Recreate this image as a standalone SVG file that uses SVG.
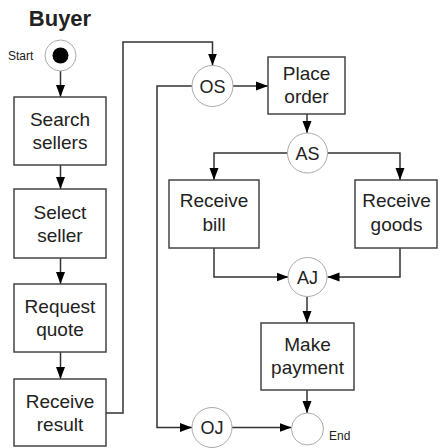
<svg xmlns="http://www.w3.org/2000/svg" width="440" height="448" viewBox="0 0 440 448">
  <defs>
    <marker id="arrow" markerUnits="userSpaceOnUse" markerWidth="12" markerHeight="10" refX="12" refY="5" orient="auto">
      <path d="M0,0.5 L12,5 L0,9.5 z" fill="#000"/>
    </marker>
    <style>
      .box { fill: #fff; stroke: #444; stroke-width: 1.5; }
      .state { fill: #fff; stroke: #aaa; stroke-width: 1; }
      .edge { fill: none; stroke: #333; stroke-width: 1.5; marker-end: url(#arrow); }
      .lbl { font-family: "Liberation Sans", Arial, sans-serif; font-size: 19px; fill: #222; text-anchor: middle; }
      .clbl { font-family: "Liberation Sans", Arial, sans-serif; font-size: 18px; fill: #222; text-anchor: middle; }
      .small { font-family: "Liberation Sans", Arial, sans-serif; font-size: 12px; fill: #222; }
      .title { font-family: "Liberation Sans", Arial, sans-serif; font-size: 22px; font-weight: bold; fill: #222; text-anchor: middle; }
    </style>
  </defs>

  <rect width="440" height="448" fill="#fff"/>

  <text class="title" x="60" y="26">Buyer</text>

  <!-- connectors -->
  <g id="connectors">
    <path class="edge" d="M60.5 71 V97"/>
    <path class="edge" d="M60.5 165 V189"/>
    <path class="edge" d="M60.5 258 V284"/>
    <path class="edge" d="M60.5 352 V379"/>
    <path class="edge" d="M106 413 H123 V42 H212.5 V65.5"/>
    <path class="edge" d="M233 86 H268"/>
    <path class="edge" d="M192 86 H157 V427.5 H192"/>
    <path class="edge" d="M307 114 V133"/>
    <path class="edge" d="M288 153 H214 V180"/>
    <path class="edge" d="M328 153 H400 V180"/>
    <path class="edge" d="M214 248 V277 H288.5"/>
    <path class="edge" d="M400 248 V277 H327.5"/>
    <path class="edge" d="M307 296.5 V323"/>
    <path class="edge" d="M307 390 V413"/>
    <path class="edge" d="M232 427.5 H291.5"/>
  </g>

  <!-- start / end -->
  <g id="start">
    <circle class="state" cx="60.5" cy="55.5" r="15.5"/>
    <circle cx="60.5" cy="55.5" r="8" fill="#000"/>
    <text class="small" x="8" y="60">Start</text>
  </g>
  <g id="end">
    <circle class="state" cx="307.5" cy="429" r="16"/>
    <text class="small" x="329" y="440">End</text>
  </g>

  <!-- activity boxes -->
  <g id="search-sellers">
    <rect class="box" x="14" y="97" width="92" height="68"/>
    <text class="lbl" x="60" y="126">Search</text>
    <text class="lbl" x="60" y="149">sellers</text>
  </g>
  <g id="select-seller">
    <rect class="box" x="14" y="189" width="92" height="69"/>
    <text class="lbl" x="60" y="219">Select</text>
    <text class="lbl" x="60" y="242">seller</text>
  </g>
  <g id="request-quote">
    <rect class="box" x="14" y="284" width="92" height="68"/>
    <text class="lbl" x="60" y="313">Request</text>
    <text class="lbl" x="60" y="336">quote</text>
  </g>
  <g id="receive-result">
    <rect class="box" x="14" y="379" width="92" height="67"/>
    <text class="lbl" x="60" y="408">Receive</text>
    <text class="lbl" x="60" y="431">result</text>
  </g>
  <g id="place-order">
    <rect class="box" x="268" y="57" width="77" height="57"/>
    <text class="lbl" x="306.5" y="80">Place</text>
    <text class="lbl" x="306.5" y="103">order</text>
  </g>
  <g id="receive-bill">
    <rect class="box" x="169" y="180" width="90" height="68"/>
    <text class="lbl" x="214" y="207">Receive</text>
    <text class="lbl" x="214" y="231">bill</text>
  </g>
  <g id="receive-goods">
    <rect class="box" x="355" y="180" width="82" height="68"/>
    <text class="lbl" x="396.5" y="207">Receive</text>
    <text class="lbl" x="396.5" y="231">goods</text>
  </g>
  <g id="make-payment">
    <rect class="box" x="261" y="323" width="93" height="67"/>
    <text class="lbl" x="307.5" y="351">Make</text>
    <text class="lbl" x="307.5" y="374">payment</text>
  </g>

  <!-- split / join states -->
  <g id="os">
    <circle class="state" cx="212.5" cy="86" r="20.5"/>
    <text class="clbl" x="212.5" y="92.5">OS</text>
  </g>
  <g id="as">
    <circle class="state" cx="307.5" cy="153" r="20"/>
    <text class="clbl" x="307.5" y="159.5">AS</text>
  </g>
  <g id="aj">
    <circle class="state" cx="307.5" cy="277" r="19.5"/>
    <text class="clbl" x="307.5" y="283.5">AJ</text>
  </g>
  <g id="oj">
    <circle class="state" cx="212" cy="427.5" r="20"/>
    <text class="clbl" x="212" y="434">OJ</text>
  </g>
</svg>
